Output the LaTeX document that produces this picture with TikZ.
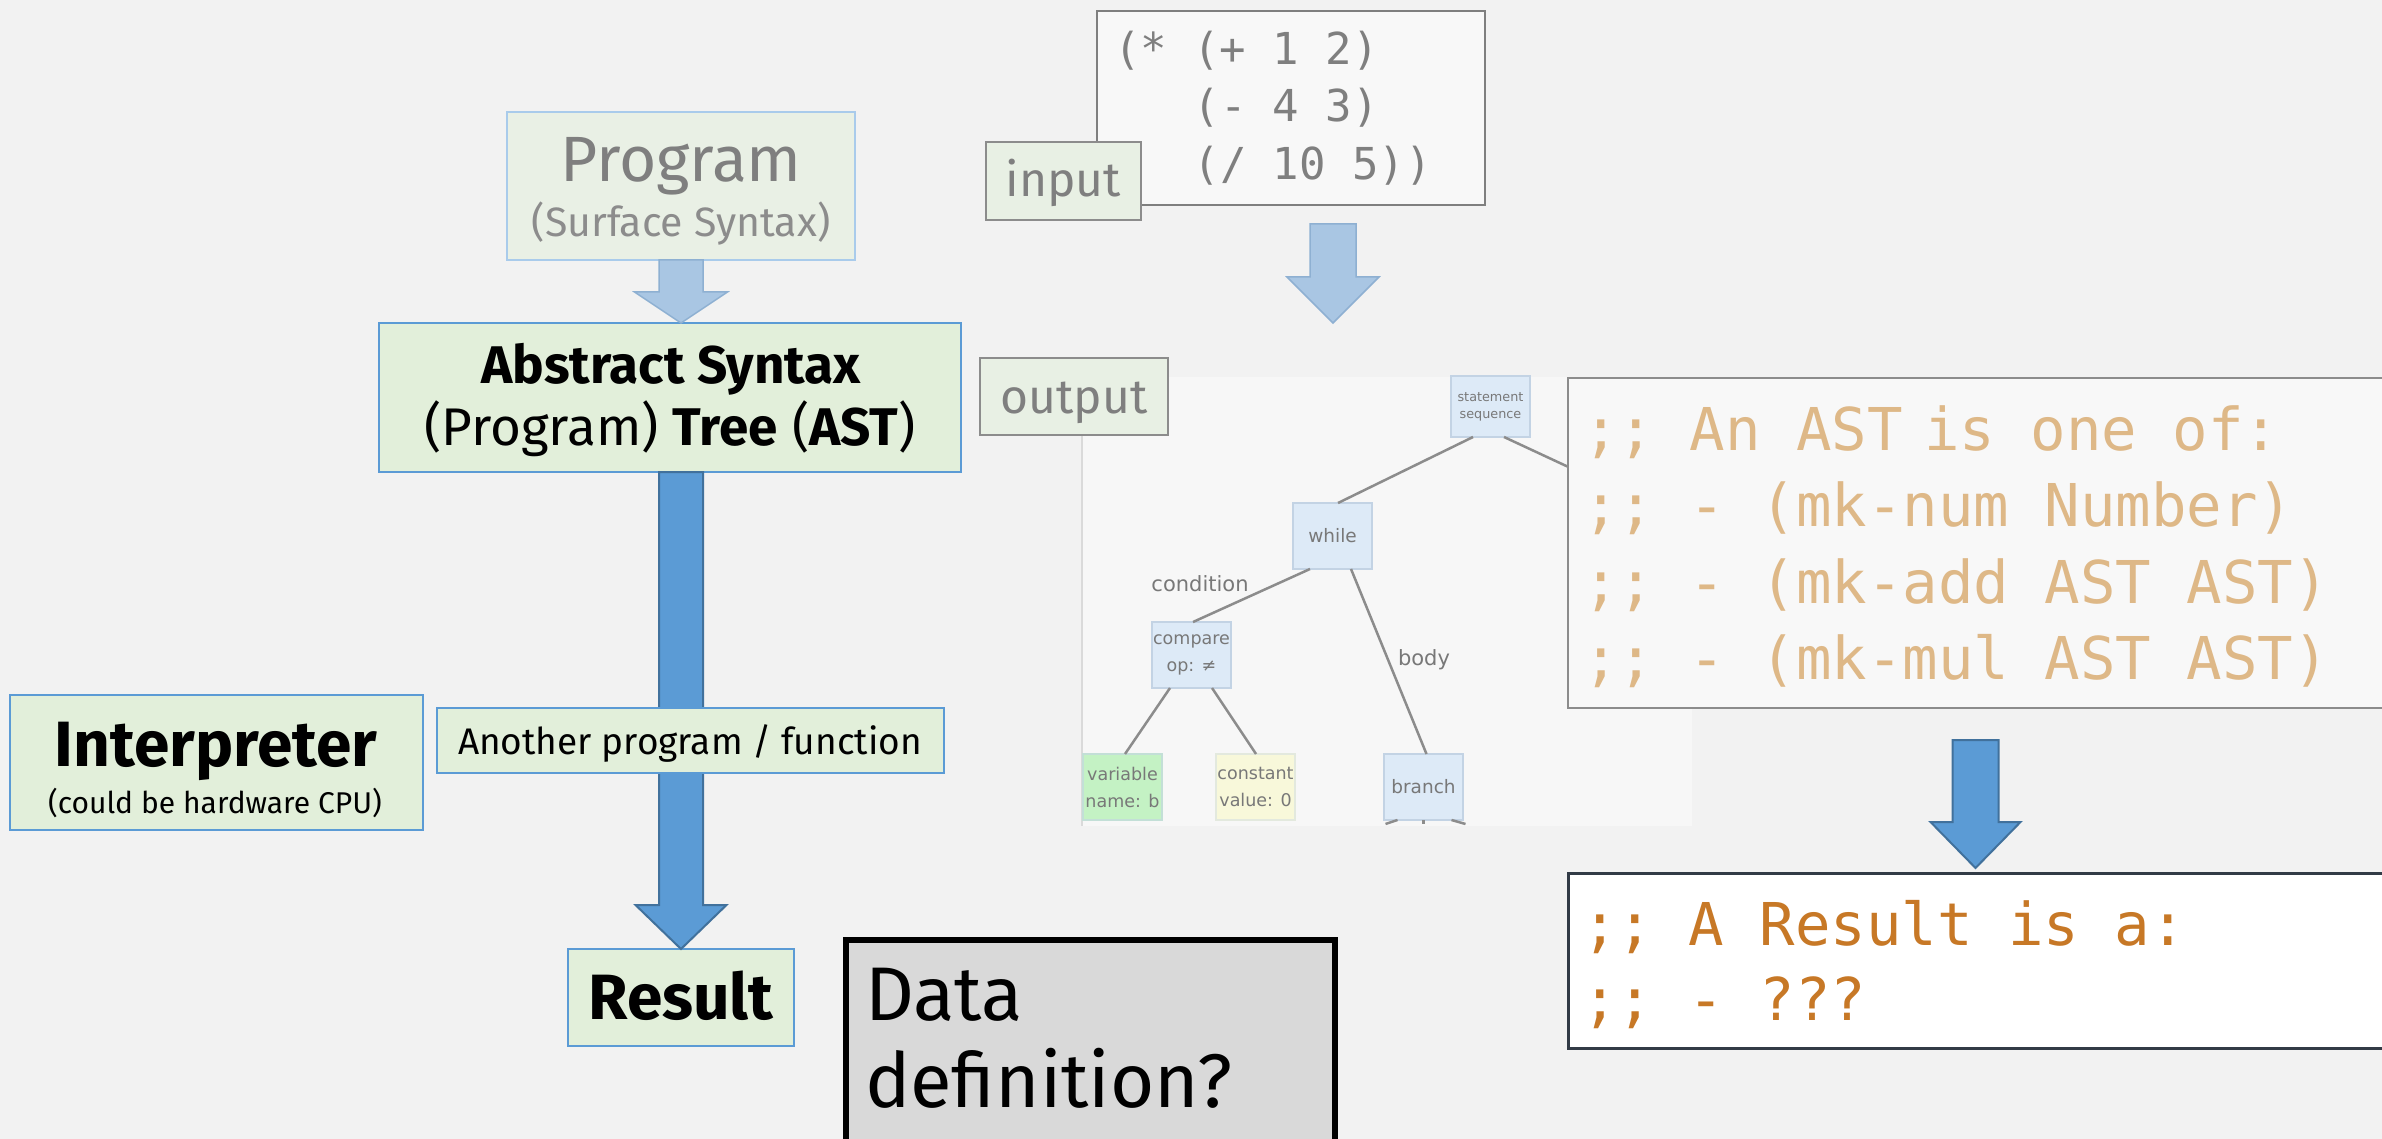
\documentclass[tikz,border=0pt]{standalone}
\usepackage{fontspec}
\setmainfont{Fira Sans}
\newfontfamily\codefont{DejaVu Sans Mono}
\newfontfamily\treefont{DejaVu Sans}
\usetikzlibrary{calc}

\definecolor{pagebg}{HTML}{F2F2F2}
\definecolor{greenfill}{HTML}{E2EFDA}
\definecolor{palefill}{HTML}{E9F0E5}
\definecolor{boxblue}{HTML}{5B9BD5}
\definecolor{paleblue}{HTML}{A9CBEB}
\definecolor{textgrey}{HTML}{7F7F7F}
\definecolor{subgrey}{HTML}{8C8C8C}
\definecolor{codefill}{HTML}{F8F8F8}
\definecolor{labelfill}{HTML}{E8F0E4}
\definecolor{labelborder}{HTML}{8C8C8C}
\definecolor{shotbg}{HTML}{F7F7F7}
\definecolor{shotedge}{HTML}{DADADA}
\definecolor{treeblue}{HTML}{DDEAF7}
\definecolor{treeborder}{HTML}{C3D3E4}
\definecolor{treegreen}{HTML}{C4F2C4}
\definecolor{treeyellow}{HTML}{F8F8DA}
\definecolor{treeline}{HTML}{8C8C8C}
\definecolor{treetext}{HTML}{787878}
\definecolor{astcomment}{HTML}{DEB887}
\definecolor{rescomment}{HTML}{C77826}
\definecolor{resborder}{HTML}{323B46}
\definecolor{lightarrowfill}{HTML}{A9C6E3}
\definecolor{lightarrowdraw}{HTML}{8EB0D2}
\definecolor{darkarrowdraw}{HTML}{41719C}
\definecolor{ddfill}{HTML}{D9D9D9}

\newcommand\fs[1]{\fontsize{#1}{#1}\selectfont}
% block arrow pointing down: style, top point, tip point, shaft half width, head half width, head length
\newcommand\blockarrow[6]{%
  \draw[#1] let \p1=(#2), \p2=(#3) in
    (\x2-#4pt,\y1) -- (\x2-#4pt,\y2+#6pt) -- (\x2-#5pt,\y2+#6pt) -- (\x2,\y2)
    -- (\x2+#5pt,\y2+#6pt) -- (\x2+#4pt,\y2+#6pt) -- (\x2+#4pt,\y1) -- cycle;}

\begin{document}
\begin{tikzpicture}[x=1pt,y=-1pt]
\tikzset{
  every node/.style={inner sep=0pt, outer sep=0pt},
  panel/.style={draw, rectangle, anchor=north west},
  greenpanel/.style={panel, fill=greenfill, draw=boxblue, line width=2.5pt},
  tagpanel/.style={panel, fill=labelfill, draw=labelborder, line width=2pt},
  treenode/.style={panel, fill=treeblue, draw=treeborder, line width=1.5pt,
    minimum width=79pt, minimum height=66pt, align=center, text=treetext,
    font=\treefont\fontsize{17.5}{27}\selectfont},
  treeedge/.style={draw=treeline, line width=2.5pt},
  treelabel/.style={text=treetext, font=\treefont\fs{21}},
  lightarrow/.style={fill=lightarrowfill, draw=lightarrowdraw, line width=1.5pt},
  darkarrow/.style={fill=boxblue, draw=darkarrowdraw, line width=2pt},
  codeline/.style={anchor=base west},
}
\useasboundingbox (0,0) rectangle (2382,1139);
\clip (0,0) rectangle (2382,1139);
\fill[pagebg] (0,0) rectangle (2382,1139);

% ---- syntax tree picture ----
\node[panel, draw=none, fill=shotbg, minimum width=610pt, minimum height=449pt] (shot) at (1082,377) {};
\draw[shotedge, line width=1.5pt] (shot.north west) -- (shot.south west);

\node[treenode, minimum height=61pt, font=\treefont\fontsize{12.8}{17}\selectfont] (seq) at (1451,376) {statement\\sequence};
\node[treenode, font=\treefont\fs{18.5}] (while) at (1293,503) {while};
\node[treenode] (compare) at (1152,622) {compare\\op: ≠};
\node[treenode, fill=treegreen, draw=treeborder!60!treegreen] (variable) at (1083,754) {variable\\name: b};
\node[treenode, fill=treeyellow, draw=treeborder!40!treeyellow] (constant) at (1216,754) {constant\\value: 0};
\node[treenode, font=\treefont\fs{18.5}] (branch) at (1384,754) {branch};
\coordinate (seqright) at (1620,491);

\draw[treeedge] ([xshift=-17.5pt]seq.south) -- ([xshift=5.5pt]while.north);
\draw[treeedge] ([xshift=13.5pt]seq.south) -- (seqright);
\draw[treeedge] ([xshift=-22.5pt]while.south) -- ([xshift=1.5pt]compare.north);
\draw[treeedge] ([xshift=18.5pt]while.south) -- ([xshift=3pt]branch.north);
\draw[treeedge] ([xshift=-21.5pt]compare.south) -- ([xshift=2.5pt]variable.north);
\draw[treeedge] ([xshift=20.5pt]compare.south) -- ([xshift=0.5pt]constant.north);
\draw[treeedge] ([xshift=-26pt]branch.south) -- ++(-12,4);
\draw[treeedge] (branch.south) -- ++(0,4);
\draw[treeedge] ([xshift=28pt]branch.south) -- ++(14,4);

\node[treelabel] (condlbl) at (1200,584) {condition};
\node[treelabel] (bodylbl) at (1424,660) {body};

% ---- input code ----
\node[panel, fill=codefill, draw=textgrey, line width=2.5pt, minimum width=388pt, minimum height=194pt] (inputcode) at (1097,11) {};
\node[codeline, text=textgrey, font=\codefont\fs{44}] (in1) at (1114,65) {(* (+ 1 2)};
\node[codeline, text=textgrey, font=\codefont\fs{44}] (in2) at (1193.5,122) {(- 4 3)};
\node[codeline, text=textgrey, font=\codefont\fs{44}] (in3) at (1193.5,180) {(/ 10 5))};

\node[tagpanel, minimum width=155pt, minimum height=78pt] (inlabel) at (986,142) {};
\node[anchor=base, text=textgrey, font=\fs{48}] (inlabeltext) at (1063.5,197) {input};

\node[tagpanel, minimum width=188pt, minimum height=77pt] (outlabel) at (980,358) {};
\node[anchor=base, text=textgrey, font=\fs{48}] (outlabeltext) at (1074,413) {output};

\coordinate (a2top) at (1333,224);
\coordinate (a2tip) at (1333,323);
\blockarrow{lightarrow}{a2top}{a2tip}{23}{46}{46}

% ---- AST data definition ----
\node[panel, fill=codefill, draw=labelborder, line width=2.5pt, minimum width=850pt, minimum height=330pt] (astdef) at (1568,378) {};
\node[codeline, text=astcomment, font=\codefont\fs{59}] (ad1) at (1583,450) {;; An AST\hspace{21.5pt}is one of:};
\node[codeline, text=astcomment, font=\codefont\fs{59}] (ad2) at (1583,526) {;; - (mk-num Number)};
\node[codeline, text=astcomment, font=\codefont\fs{59}] (ad3) at (1583,603) {;; - (mk-add AST AST)};
\node[codeline, text=astcomment, font=\codefont\fs{59}] (ad4) at (1583,679) {;; - (mk-mul AST AST)};

\coordinate (a3top) at (1975.5,740);
\coordinate (a3tip) at (1975.5,868);
\blockarrow{darkarrow}{a3top}{a3tip}{23}{45}{46}

% ---- Result data definition ----
\node[panel, fill=white, draw=resborder, line width=3pt, minimum width=850pt, minimum height=175pt] (resdef) at (1568,873) {};
\node[codeline, text=rescomment, font=\codefont\fs{59}] (rd1) at (1582,945) {;; A Result is a:};
\node[codeline, text=rescomment, font=\codefont\fs{59}] (rd2) at (1582,1020) {;; - ???};

% ---- left pipeline ----
\node[panel, fill=palefill, draw=paleblue, line width=2.5pt, minimum width=348pt, minimum height=148pt] (prog) at (507,112) {};
\node[anchor=base, text=textgrey, font=\fs{64}] (progtext) at (681,182) {Program};
\node[anchor=base, text=subgrey, font=\fs{41}] (progsub) at (681,237) {(Surface Syntax)};

\node[greenpanel, minimum width=582pt, minimum height=149pt] (ast) at (379,323) {};
\node[anchor=base, font=\bfseries\fs{53}] (asttext1) at (671,383) {Abstract Syntax};
\node[anchor=base, font=\fs{53}] (asttext2) at (670,445) {(Program) \textbf{Tree} (\textbf{AST})};

\node[greenpanel, minimum width=226pt, minimum height=97pt] (result) at (568,949) {};
\node[anchor=base, font=\bfseries\fs{64}] (resulttext) at (681,1019) {Result};

\blockarrow{lightarrow}{prog.south}{prog.south |- ast.north}{22}{46.5}{31}
\blockarrow{darkarrow}{result.north |- ast.south}{result.north}{22}{45.5}{44}

\node[greenpanel, minimum width=507pt, minimum height=65pt] (another) at (437,708) {};
\node[anchor=base, font=\fs{37}] (anothertext) at (690,754) {Another program / function};

\node[greenpanel, minimum width=413pt, minimum height=135pt] (interp) at (10,695) {};
\node[anchor=base, font=\bfseries\fs{64}] (interptext) at (216,766) {Interpreter};
\node[anchor=base, font=\fs{30}] (interpsub) at (215,813) {(could be hardware CPU)};

\node[panel, fill=ddfill, draw=black, line width=6pt, minimum width=489pt, minimum height=260pt] (datadef) at (845.7,940.3) {};
\node[anchor=base west, font=\fs{76}] (ddtext1) at (865,1020) {Data};
\node[anchor=base west, font=\fs{76}] (ddtext2) at (865,1107) {definition?};
\end{tikzpicture}
\end{document}
